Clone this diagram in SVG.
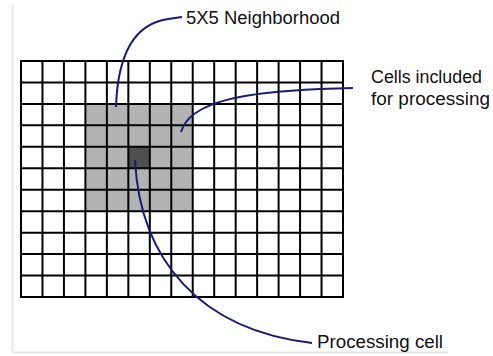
<svg xmlns="http://www.w3.org/2000/svg" width="493" height="356" viewBox="0 0 493 356">
<style>
.lbl{font-family:"Liberation Sans",Arial,sans-serif;font-size:18px;fill:#111}
.grid line{stroke:#000;stroke-width:2}
.lead{fill:none;stroke:#1a1a7a;stroke-width:2}
</style>
<rect width="493" height="356" fill="#fff"/>
<g id="frame" fill="none" stroke="#e6e6e6" stroke-width="2">
<path d="M12.5 5 V352.5 H448"/>
</g>
<g id="neighborhood">
<rect x="85.4" y="103.91" width="107.33" height="107.27" fill="#b3b3b3"/>
</g>
<g id="processing-cell">
<rect x="128.33" y="146.82" width="21.47" height="21.45" fill="#505050"/>
</g>
<g id="grid" class="grid">
<line x1="21" y1="61" x2="21" y2="297"/>
<line x1="42.47" y1="61" x2="42.47" y2="297"/>
<line x1="63.93" y1="61" x2="63.93" y2="297"/>
<line x1="85.4" y1="61" x2="85.4" y2="297"/>
<line x1="106.87" y1="61" x2="106.87" y2="297"/>
<line x1="128.33" y1="61" x2="128.33" y2="297"/>
<line x1="149.8" y1="61" x2="149.8" y2="297"/>
<line x1="171.27" y1="61" x2="171.27" y2="297"/>
<line x1="192.73" y1="61" x2="192.73" y2="297"/>
<line x1="214.2" y1="61" x2="214.2" y2="297"/>
<line x1="235.67" y1="61" x2="235.67" y2="297"/>
<line x1="257.13" y1="61" x2="257.13" y2="297"/>
<line x1="278.6" y1="61" x2="278.6" y2="297"/>
<line x1="300.07" y1="61" x2="300.07" y2="297"/>
<line x1="321.53" y1="61" x2="321.53" y2="297"/>
<line x1="343" y1="61" x2="343" y2="297"/>
<line x1="20" y1="61" x2="344" y2="61"/>
<line x1="20" y1="82.45" x2="344" y2="82.45"/>
<line x1="20" y1="103.91" x2="344" y2="103.91"/>
<line x1="20" y1="125.36" x2="344" y2="125.36"/>
<line x1="20" y1="146.82" x2="344" y2="146.82"/>
<line x1="20" y1="168.27" x2="344" y2="168.27"/>
<line x1="20" y1="189.73" x2="344" y2="189.73"/>
<line x1="20" y1="211.18" x2="344" y2="211.18"/>
<line x1="20" y1="232.64" x2="344" y2="232.64"/>
<line x1="20" y1="254.09" x2="344" y2="254.09"/>
<line x1="20" y1="275.55" x2="344" y2="275.55"/>
<line x1="20" y1="297" x2="344" y2="297"/>
</g>
<g id="connectors">
<path class="lead" d="M182 17 L168 19 C140 23 118 45 116 107"/>
<path class="lead" d="M353 88 L320 89 C250 92 190 100 181 132"/>
<path class="lead" d="M135 160 C140 260 200 330 312 343"/>
</g>
<g id="label-neighborhood">
<text class="lbl" x="186" y="24" font-size="19" textLength="154" lengthAdjust="spacingAndGlyphs">5X5 Neighborhood</text>
</g>
<g id="label-cells">
<text class="lbl" x="371" y="83" textLength="111" lengthAdjust="spacingAndGlyphs">Cells included</text>
<text class="lbl" x="371" y="105" textLength="119" lengthAdjust="spacingAndGlyphs">for processing</text>
</g>
<g id="label-processing">
<text class="lbl" x="317" y="348" textLength="126" lengthAdjust="spacingAndGlyphs">Processing cell</text>
</g>
</svg>
